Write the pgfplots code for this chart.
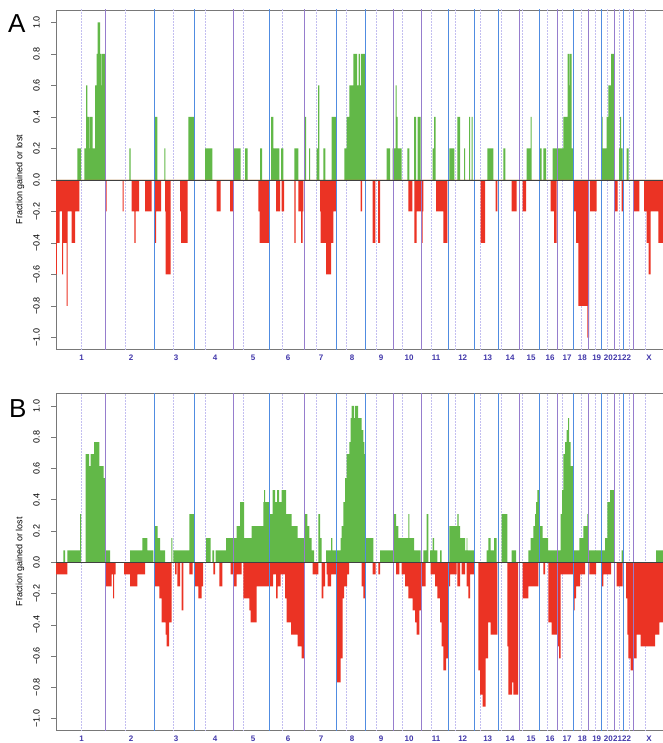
\documentclass[border=0pt]{standalone}
\usepackage{fontspec}
\setmainfont{Liberation Sans}
\usepackage{pgfplots}
\pgfplotsset{compat=1.18}

\definecolor{gcol}{RGB}{98,184,72}
\definecolor{rcol}{RGB}{235,51,36}
\definecolor{bluel}{RGB}{80,140,225}
\definecolor{purpl}{RGB}{150,125,205}
\definecolor{cenc}{RGB}{195,190,240}
\definecolor{chrlab}{RGB}{65,55,170}
\definecolor{frame}{RGB}{120,120,120}

% chromosome boundaries and centromeres, x in pixel units of the original
\newcommand{\chromlines}{%
  \pgfplotsinvokeforeach{81,125,173,205.7,243,282.7,316.7,346,376,402.3,431,455,480,501.7,522.7,547.3,562.3,581,595.3,607.3,619,629,645.7}{%
    \draw[cenc, densely dotted, line width=0.5pt] (axis cs:##1,-1.2) -- (axis cs:##1,1.2);}%
}
\newcommand{\chrombounds}{%
  \pgfplotsinvokeforeach{105.5,233.5,304.5,393.5,421.5,519.5,557.5,588.5,614.5,633.5}{%
    \draw[purpl, line width=1pt] (axis cs:##1,-1.2) -- (axis cs:##1,1.2);}%
  \pgfplotsinvokeforeach{154.5,194.5,269.5,336.5,365.5,448.5,474.5,498.5,539.5,573.5,601.5,623.5}{%
    \draw[bluel, line width=1pt] (axis cs:##1,-1.2) -- (axis cs:##1,1.2);}%
}

\pgfplotsset{chrom/.style={
  width=612pt, scale only axis,
  xmin=56, xmax=668,
  axis line style={draw=frame, line width=0.6pt},
  xtick={81.7,131,176,215,253,288,321,352,381,409,436,462.7,487.7,510,531,550,567,582.3,596.7,608.3,617.5,626.5,649},
  xticklabels={1,2,3,4,5,6,7,8,9,10,11,12,13,14,15,16,17,18,19,20,21,22,X},
  xtick style={draw=none},
  xticklabel style={font=\bfseries\fontsize{8}{8}\selectfont, text=chrlab, inner sep=1pt},
  ytick={-1,-0.8,-0.6,-0.4,-0.2,0,0.2,0.4,0.6,0.8,1},
  yticklabels={−1.0,−0.8,−0.6,−0.4,−0.2,0.0,0.2,0.4,0.6,0.8,1.0},
  ytick pos=left, tick align=outside, major tick length=5pt,
  ytick style={draw=frame, line width=0.6pt},
  yticklabel style={rotate=90, anchor=south, font=\fontsize{9}{9}\selectfont, inner sep=1pt},
  yticklabel shift=10pt,
  ylabel={Fraction gained or lost},
  ylabel style={at={(axis description cs:-0.0588,0.5)}, anchor=center, font=\fontsize{9}{9}\selectfont},
  clip=true,
}}

\begin{document}
\begin{tikzpicture}
\path[use as bounding box] (0pt,0pt) rectangle (662pt,-743pt);

% ---------------- Panel A ----------------
\begin{axis}[chrom, name=A, at={(56pt,-349pt)}, anchor=south west,
  height=339pt, ymin=-1.073, ymax=1.079]
\chromlines
% gains
\addplot[const plot, fill=gcol, draw=none] coordinates {
(56,0) (77.3,0.2) (81,0) (84.3,0.2) (86,0.6) (87.3,0.4) (89,0.2) (89.7,0.4) (92.7,0.2) (95,0.6) (96.7,0.8) (97.7,1.0) (100,0.8) (101,0.6) (101.7,0.8) (105.3,0)
(129.3,0.2) (130.7,0) (155,0.4) (157.3,0) (164.3,0.2) (165.3,0) (188.3,0.4) (194.3,0) (205,0.2) (212.3,0) (234,0.2) (240.7,0) (245,0.2) (247.7,0) (260,0.2) (262,0)
(271,0.4) (273.3,0.2) (279.3,0) (281,0.2) (283.3,0) (294.3,0.2) (298.3,0) (304.3,0.4) (306,0) (309,0.2) (310,0) (316.7,0.2) (318,0.6) (319.3,0) (323.3,0.2) (325.3,0) (331.7,0.4) (336,0)
(344.3,0.2) (346.7,0.4) (349.3,0.6) (353.3,0.8) (357,0.6) (358.5,0.8) (360,0.6) (361,0.8) (365.7,0) (386.7,0.2) (390,0) (392.7,0.2) (395.7,0.6) (396.7,0.4) (397.5,0.2) (401.7,0)
(407.3,0.2) (409.3,0) (414,0.4) (416,0) (417.7,0.4) (420.7,0) (432.7,0.2) (434,0.4) (435.7,0) (449.3,0.2) (454.3,0) (457.3,0.4) (460,0) (464,0.2) (465,0) (469,0.4) (470,0) (471.5,0.4) (472.7,0)
(487.3,0.2) (493.3,0) (503.3,0.2) (505.3,0) (526.7,0.2) (530.7,0.4) (531.7,0) (540,0.2) (541.7,0) (543.3,0.2) (546,0) (552.7,0.2) (563.3,0.4) (567.7,0.8) (569,0.6) (569.7,0.8) (571.7,0.2) (573.3,0)
(601.7,0.4) (602.7,0.2) (606.7,0.4) (608.3,0.6) (611,0.8) (614,0) (619,0.2) (620,0.4) (621,0.2) (622.7,0) (626.7,0.2) (628.7,0) (668,0)
} \closedcycle;
% losses
\addplot[const plot, fill=rcol, draw=none] coordinates {
(56,-0.6) (56.8,-0.4) (59.5,-0.2) (62,-0.6) (63,-0.4) (66.5,-0.8) (67.5,-0.2) (71.5,-0.4) (75,-0.2) (79.3,0) (105.5,-0.2) (106.7,0) (122.7,-0.2) (123.7,0)
(131.7,-0.2) (134.3,-0.4) (135.7,-0.2) (139,0) (145,-0.2) (151.7,0) (155,-0.4) (156,-0.2) (161,0) (165,-0.2) (165.7,-0.6) (170.7,0) (180,-0.2) (181,-0.4) (187.7,0)
(216.7,-0.2) (220.7,0) (230,-0.2) (233.3,0) (258.3,-0.2) (259.5,-0.4) (269.3,0) (276,-0.2) (280,0) (281.7,-0.2) (284,0) (294.3,-0.4) (295.7,0) (298.3,-0.2) (301,-0.4) (302.7,-0.2) (303.3,0)
(320,-0.2) (320.7,-0.4) (326,-0.6) (331,-0.4) (333.3,-0.2) (336.7,0) (360.7,-0.2) (362,0) (372.7,-0.4) (375.3,0) (378,-0.4) (380,0) (408.3,-0.2) (412.3,0)
(414.3,-0.4) (416.7,-0.2) (421,-0.4) (422.7,-0.2) (423.3,0) (436,-0.2) (443.3,-0.4) (447.3,0) (480.7,-0.4) (485,0) (495.7,-0.2) (497.3,0) (511.7,-0.2) (516.7,0) (522.7,-0.2) (526,0)
(550.7,-0.2) (554,-0.4) (556.7,0) (573.3,-0.2) (576,-0.4) (578.3,-0.8) (587.3,-1.0) (589,0) (590,-0.2) (596.7,0) (615,-0.2) (617.7,0) (621.7,-0.2) (623.3,0)
(633.3,-0.2) (639.3,0) (644,-0.2) (646.7,-0.4) (648.7,-0.6) (650.7,-0.2) (658.3,-0.4) (668,0)
} \closedcycle;
\chrombounds
\addplot[black!75, line width=0.6pt] coordinates {(56,0) (668,0)};
\end{axis}
\node[anchor=base west, inner sep=0pt, font=\fontsize{26}{26}\selectfont] at (8pt,-33pt) {A};

% ---------------- Panel B ----------------
\begin{axis}[chrom, name=B, at={(56pt,-730pt)}, anchor=south west,
  height=337pt, ymin=-1.073, ymax=1.083]
\chromlines
% gains
\addplot[const plot, fill=gcol, draw=none] coordinates {
(56,0) (63.3,0.077) (65,0) (67.3,0.077) (80,0.308) (81,0) (85.7,0.692) (89,0.615) (90.7,0.692) (94,0.769) (99.3,0.615) (103.7,0.538) (105.3,0.077) (110,0)
(130,0.077) (142.3,0.154) (147.3,0.077) (153.3,0) (155,0.231) (157.7,0.154) (160,0.077) (165,0) (171.3,0.154) (172.3,0) (173.3,0.077) (189.3,0.308) (194.3,0)
(206,0.154) (210.7,0) (212.3,0.077) (214,0) (215.7,0.077) (226,0.154) (236.7,0.231) (240,0.385) (244,0.154) (251.7,0.231) (263.3,0.385) (264,0.462) (265,0.385)
(269.3,0.308) (272.7,0.462) (275,0.385) (277,0.462) (279,0.385) (281.7,0.462) (286,0.308) (291.7,0.231) (297.7,0.154) (304.3,0.308) (307.3,0.231) (309.3,0.154) (311.7,0.077) (314,0)
(318.3,0.308) (320,0.154) (321.7,0) (326,0.077) (331,0.154) (332.3,0.077) (340.7,0.154) (341.7,0.231) (343.3,0.385) (345,0.538) (346.7,0.692) (349.3,0.769) (350.7,0.923)
(351.7,1.0) (354,0.923) (355,1.0) (358,0.923) (361.7,0.846) (363.3,0.769) (364.3,0.692) (365.7,0.154) (373.3,0) (380,0.077) (393.3,0.308) (396,0.231) (398.3,0.154)
(408.3,0.308) (409.3,0.154) (414,0.077) (420.7,0) (423.3,0.077) (426.7,0.308) (428.3,0) (430,0.077) (432.7,0.154) (434,0.077) (437.3,0) (440,0.077) (441.7,0)
(449.3,0.231) (457.3,0.308) (458.7,0.231) (460,0.154) (465,0.077) (466.7,0.154) (467.3,0.077) (474,0) (486.7,0.077) (488.3,0.154) (490.7,0.077) (494,0.154) (496.7,0)
(501.7,0.308) (507.3,0) (511.7,0.077) (516,0) (528.3,0.077) (530.7,0.154) (533.3,0.231) (535,0.308) (536,0.385) (537.3,0.462) (539.3,0.231) (542.7,0.154) (548,0.077)
(560.7,0.308) (562,0.462) (563.3,0.692) (565,0.769) (566.7,0.846) (568,0.923) (569,0.769) (570.7,0.615) (573.3,0.077) (579.3,0.154) (583.3,0.231) (587.3,0.308) (588.7,0.077)
(605,0.154) (607.3,0.385) (610,0.462) (614,0) (621.7,0.077) (623.3,0) (656,0.077) (668,0)
} \closedcycle;
% losses
\addplot[const plot, fill=rcol, draw=none] coordinates {
(56,-0.077) (67.3,0) (105.3,-0.154) (111.7,-0.077) (113,-0.231) (114,-0.077) (115.7,0) (124,-0.077) (130,-0.154) (137.3,-0.077) (145,0)
(155,-0.154) (159.3,-0.231) (161.7,-0.385) (165.7,-0.462) (166.7,-0.538) (169,-0.385) (171.7,0) (175,-0.077) (176.7,0) (177.3,-0.154) (180,0) (181.7,-0.308) (183.3,0) (189.3,-0.077) (192.7,0)
(195,-0.154) (198.3,-0.231) (201.7,-0.154) (203,0) (213.3,-0.077) (215,0) (219.3,-0.154) (222.3,0) (230.7,-0.077) (233.3,-0.154) (236.7,-0.077) (241.7,0)
(243.3,-0.231) (249.3,-0.308) (250.7,-0.385) (256.7,-0.154) (273,-0.077) (276,-0.231) (277.7,-0.154) (280.7,-0.077) (285,-0.231) (286.7,-0.385) (291,-0.462) (297.7,-0.538) (301.7,-0.615) (304,0)
(312.7,-0.077) (318.3,0) (321.7,-0.231) (323.3,-0.154) (325,0) (326.7,-0.077) (327.7,-0.154) (331,-0.077) (336,-0.769) (340.7,-0.615) (342.7,-0.231) (344,-0.154) (347,-0.077) (349,0)
(361.7,-0.154) (363.3,-0.231) (365.7,0) (372.7,-0.077) (375.7,0) (378.3,-0.077) (380,0) (396,-0.077) (399.3,0) (401.7,-0.077) (405,-0.154) (408.3,-0.231) (412.7,-0.308) (415,-0.385) (416.7,-0.462) (419.3,-0.308)
(421,-0.154) (425.7,0) (430.7,-0.077) (435,-0.154) (437.3,-0.231) (440,-0.385) (441.7,-0.538) (443.3,-0.692) (446,-0.615) (448.3,-0.154) (450,-0.077) (456.7,0) (457.3,-0.154) (460,0)
(461.7,-0.077) (465,0) (466.7,-0.154) (468.3,-0.231) (470,-0.077) (474.3,0) (478.3,-0.692) (480,-0.846) (482.7,-0.923) (485.7,-0.615) (488,-0.385) (490.7,-0.462) (497.3,0)
(507.3,-0.538) (508.3,-0.846) (512,-0.769) (513.3,-0.846) (518,0) (522.7,-0.231) (528.3,-0.154) (538.3,0) (543.3,-0.077) (545,0) (548.3,-0.385) (551.7,-0.462) (557.3,-0.538) (559,-0.615)
(560.7,-0.077) (574,-0.308) (574.7,-0.231) (576,-0.154) (580,-0.077) (585,0) (589.3,-0.077) (596,0) (601.7,-0.154) (603.3,-0.077) (611,0) (616.7,-0.154) (622.7,0)
(626,-0.231) (627.3,-0.462) (628.3,-0.615) (630.7,-0.692) (633.3,-0.615) (636.7,-0.462) (640.7,-0.538) (655,-0.462) (659.3,-0.385) (668,0)
} \closedcycle;
\chrombounds
\addplot[black!75, line width=0.6pt] coordinates {(56,0) (668,0)};
\end{axis}
\node[anchor=base west, inner sep=0pt, font=\fontsize{26}{26}\selectfont] at (9pt,-417pt) {B};
\end{tikzpicture}
\end{document}
